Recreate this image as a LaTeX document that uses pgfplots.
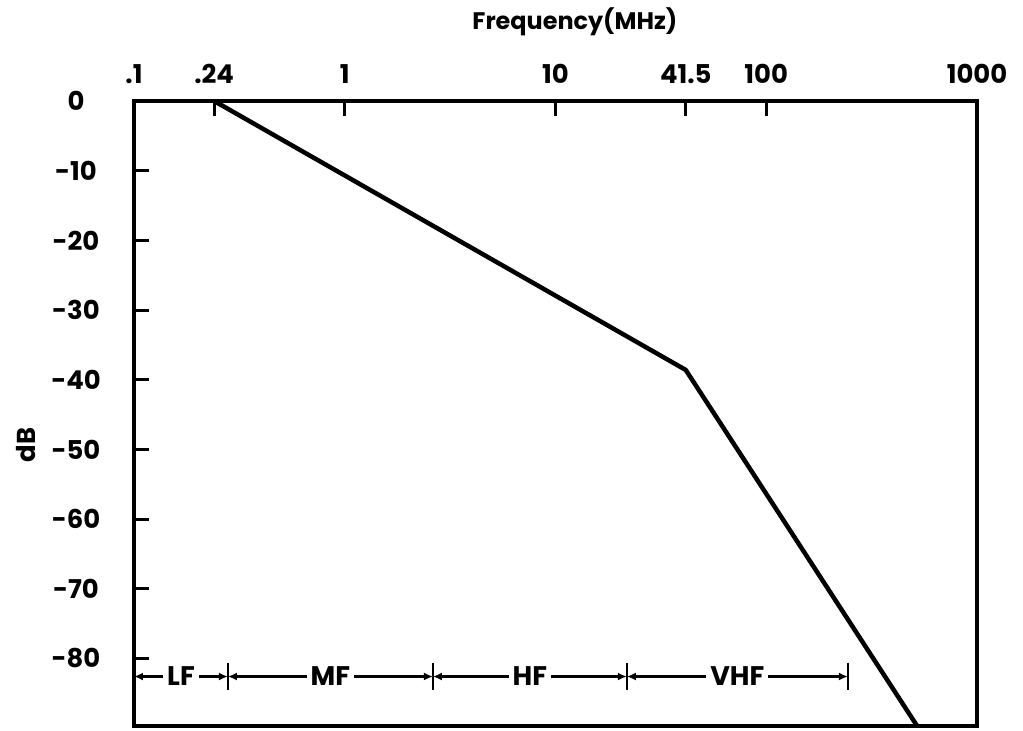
\documentclass[border=0pt]{standalone}
\usepackage{pgfplots}
\pgfplotsset{compat=1.18}
\usepackage{fontspec}
\setmainfont{Poppins}
\usetikzlibrary{arrows.meta}
\begin{document}
\begin{tikzpicture}
\begin{axis}[
  xmode=log, scale only axis, width=843bp, height=625bp,
  xmin=0.1, xmax=1000, ymin=-89.7, ymax=0,
  axis line style={line width=3.5bp},
  xtick={0.1,0.24,1,10,41.5,100,1000},
  xticklabels={.1,.24,1,10,41.5,100,1000},
  minor xtick={},
  xtick pos=upper, xticklabel pos=upper,
  ytick={0,-10,-20,-30,-40,-50,-60,-70,-80},
  yticklabels={0,-10,-20,-30,-40,-50,-60,-70,-80},
  ytick pos=left,
  tick align=inside,
  major tick length=15bp,
  tick style={line width=3bp, black},
  every tick label/.append style={font=\fontsize{26}{26}\selectfont\bfseries},
  xticklabel style={anchor=center, yshift=27bp},
  yticklabel style={anchor=center, xshift=-58bp},
  clip=false,
]
\addplot[line width=4.5bp, black, line join=round] coordinates {(0.24,0) (41.5,-38.6) (520,-89.7)};
\coordinate (bl) at (rel axis cs:0,0);
\coordinate (tr) at (rel axis cs:1,1);
\tikzset{band/.style={line width=2.5bp, {Latex[length=9bp,width=8bp]}-{Latex[length=9bp,width=8bp]}},
  bandlbl/.style={midway, fill=white, inner sep=4bp, font=\fontsize{27}{27}\selectfont\bfseries}}
\draw[band] (axis cs:0.1,-82.6) -- (axis cs:0.279,-82.6) node[bandlbl] {LF};
\draw[band] (axis cs:0.279,-82.6) -- (axis cs:2.62,-82.6) node[bandlbl] {MF};
\draw[band] (axis cs:2.62,-82.6) -- (axis cs:21.8,-82.6) node[bandlbl] {HF};
\draw[band] (axis cs:21.8,-82.6) -- (axis cs:244,-82.6) node[bandlbl] {VHF};
\draw[line width=2.5bp] (axis cs:0.279,-80.6) -- (axis cs:0.279,-84.5);
\draw[line width=2.5bp] (axis cs:2.62,-80.6) -- (axis cs:2.62,-84.5);
\draw[line width=2.5bp] (axis cs:21.8,-80.6) -- (axis cs:21.8,-84.5);
\draw[line width=2.5bp] (axis cs:244,-80.6) -- (axis cs:244,-84.5);
\node[font=\fontsize{24}{24}\selectfont\bfseries] at ([yshift=79bp]rel axis cs:0.523,1) {Frequency(MHz)};
\node[rotate=90, font=\fontsize{26}{26}\selectfont\bfseries] at ([xshift=-108bp]rel axis cs:0,0.45) {dB};
\end{axis}
\pgfresetboundingbox
\path ([shift={(-134bp,-5bp)}]bl) rectangle ([shift={(46bp,101bp)}]tr);
\end{tikzpicture}
\end{document}
